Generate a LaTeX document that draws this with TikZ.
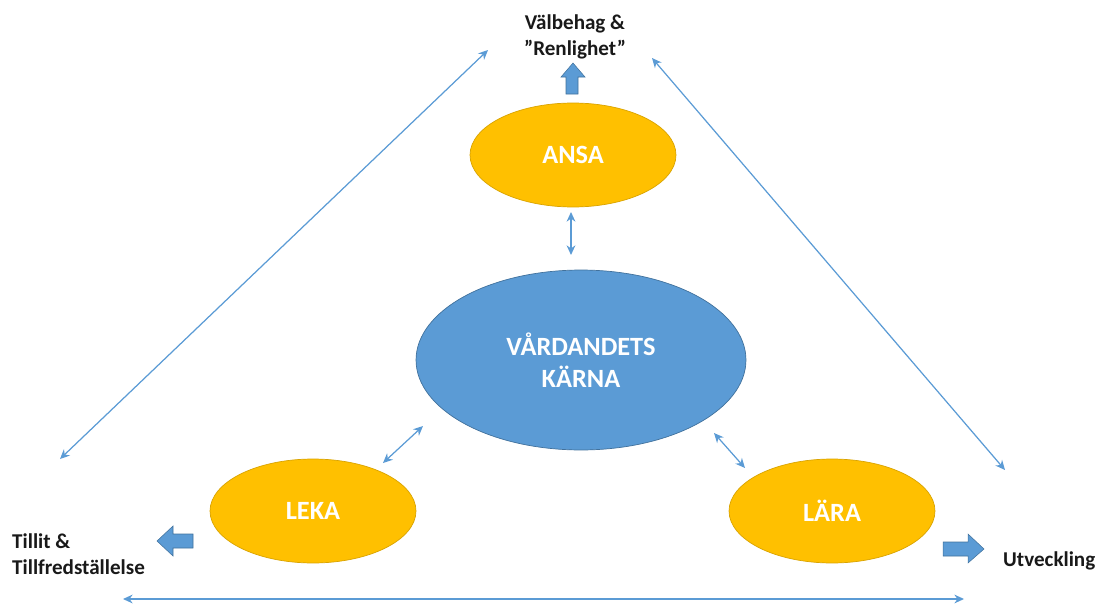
\documentclass[tikz,border=0pt]{standalone}
\usepackage{fontspec}
\setmainfont{Carlito}
\usetikzlibrary{arrows.meta,shapes.geometric}
\definecolor{myyellow}{HTML}{FFC000}
\definecolor{myyellowb}{HTML}{D9A300}
\definecolor{myblue}{HTML}{5B9BD5}
\definecolor{mybluedark}{HTML}{41719C}
\begin{document}
\begin{tikzpicture}[x=0.02cm,y=-0.02cm,
  yel/.style={ellipse,fill=myyellow,draw=myyellowb,line width=0.4pt,inner sep=0pt,
    minimum width=4.12cm,minimum height=2.08cm,text=white,font=\bfseries\fontsize{15}{18}\selectfont},
  core/.style={ellipse,fill=myblue,draw=mybluedark,line width=0.4pt,inner sep=0pt,
    minimum width=6.6cm,minimum height=3.6cm,text=white,align=center,font=\bfseries\fontsize{15}{18.5}\selectfont},
  lbl/.style={text=black!90,font=\bfseries\fontsize{12}{14.5}\selectfont},
  thin/.style={draw=myblue,line width=0.7pt,{Stealth[length=5.5pt,width=5pt]}-{Stealth[length=5.5pt,width=5pt]}},
  blk/.style={fill=myblue,draw=mybluedark,line width=0.3pt}
]
\useasboundingbox (0,0) rectangle (1105,605);

% ellipses
\node[yel] (ansa) at (573,155) {ANSA};
\node[core] (core) at (581,360) {VÅRDANDETS\\KÄRNA};
\node[yel] (leka) at (313,511) {LEKA};
\node[yel] (lara) at (832,511) {LÄRA};

% labels
\node[lbl,align=center] (top) at (575,37) {Välbehag \&\\”Renlighet”};
\node[lbl,align=left,anchor=west] (left) at (6,554) {Tillit \&\\Tillfredställelse};
\node[lbl,anchor=west] (right) at (997,561) {Utveckling};

% short double arrows
\coordinate (a1) at (571,212);
\coordinate (a2) at (571,255);
\draw[thin] (a1) -- (a2);
\coordinate (b1) at (383,463);
\coordinate (b2) at (423,426);
\draw[thin] (b1) -- (b2);
\coordinate (c1) at (714,433);
\coordinate (c2) at (745,468);
\draw[thin] (c1) -- (c2);

% long double arrows
\coordinate (l1) at (60,459);
\coordinate (l2) at (488,50);
\draw[thin] (l1) -- (l2);
\coordinate (r1) at (652,58);
\coordinate (r2) at (1005,470);
\draw[thin] (r1) -- (r2);
\coordinate (d1) at (123,599);
\coordinate (d2) at (964,599);
\draw[thin] (d1) -- (d2);

% block arrows
\draw[blk] (566,94) -- (566,77) -- (561,77) -- (573,63) -- (585,77) -- (578,77) -- (578,94) -- cycle;
\draw[blk] (193,534) -- (173,534) -- (173,526) -- (157,541) -- (173,556) -- (173,548) -- (193,548) -- cycle;
\draw[blk] (943,542) -- (968,542) -- (968,534) -- (984,549) -- (968,563) -- (968,556) -- (943,556) -- cycle;
\end{tikzpicture}
\end{document}
